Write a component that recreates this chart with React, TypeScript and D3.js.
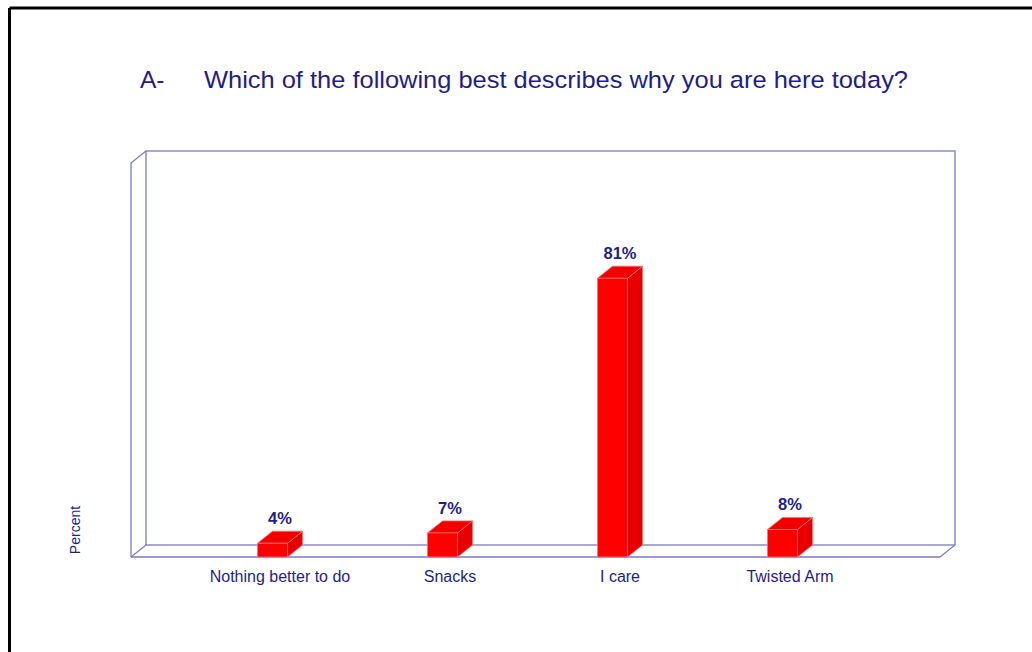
import React from "react";
import * as d3 from "d3";

const categories = ["Nothing better to do", "Snacks", "I care", "Twisted Arm"];
const values = [4, 7, 81, 8];
const valueLabels = ["4%", "7%", "81%", "8%"];
const titlePrefix = "A-";
const titleText = "Which of the following best describes why you are here today?";
const yAxisLabel = "Percent";

export default function App() {
  const W = 1032, H = 652;
  const DX = 15, DY = 12;
  const floorY = 557;
  const x0 = 131, x1 = 940;
  const topY = 163;
  const navy = "#1e1e8a";
  const lineColor = "#7a7ac4";

  const y = d3.scaleLinear().domain([0, 114.5]).range([floorY, topY]);
  const x = d3.scaleBand<string>().domain(categories).range([195, 875]).paddingInner(0);
  const barW = 30;

  const font = "Liberation Sans, Arial, sans-serif";

  return (
    <svg width={W} height={H} style={{ position: "absolute", left: 0, top: 0, background: "#fff" }}>
      <rect x={0} y={0} width={W} height={H} fill="#fff" />
      {/* frame */}
      <line x1={9.5} y1={8} x2={W} y2={8} stroke="#000" strokeWidth={3} />
      <line x1={9.5} y1={8} x2={9.5} y2={H} stroke="#000" strokeWidth={3} />

      {/* title */}
      <text x={140} y={88} fontFamily={font} fontSize={24.5} fill={navy}>{titlePrefix}</text>
      <text x={204} y={88} fontFamily={font} fontSize={24.5} fill={navy} textLength={704} lengthAdjust="spacingAndGlyphs">{titleText}</text>

      {/* 3D frame */}
      <g stroke={lineColor} strokeWidth={1.3} fill="none">
        <rect x={x0 + DX} y={topY - DY} width={x1 - x0} height={floorY - topY} />
        <line x1={x0} y1={topY} x2={x0} y2={floorY} />
        <line x1={x0} y1={topY} x2={x0 + DX} y2={topY - DY} />
        <line x1={x0} y1={floorY} x2={x1} y2={floorY} />
        <line x1={x0} y1={floorY} x2={x0 + DX} y2={floorY - DY} />
        <line x1={x1} y1={floorY} x2={x1 + DX} y2={floorY - DY} />
      </g>

      {/* y axis label */}
      <text
        transform={`translate(80,${530}) rotate(-90)`}
        textAnchor="middle"
        fontFamily={font}
        fontSize={14}
        fill={navy}
      >
        {yAxisLabel}
      </text>

      {/* bars */}
      {categories.map((c, i) => {
        const cx = (x(c) as number) + x.bandwidth() / 2;
        const left = cx - (barW + DX) / 2;
        const right = left + barW;
        const top = y(values[i]);
        const front = `M${left},${floorY}L${left},${top}L${right},${top}L${right},${floorY}Z`;
        const topFace = `M${left},${top}L${left + DX},${top - DY}L${right + DX},${top - DY}L${right},${top}Z`;
        const side = `M${right},${top}L${right + DX},${top - DY}L${right + DX},${floorY - DY}L${right},${floorY}Z`;
        return (
          <g key={c}>
            <path d={side} fill="#e60000" stroke="#ff7070" strokeWidth={0.8} />
            <path d={topFace} fill="#f20000" stroke="#ff7070" strokeWidth={0.8} />
            <path d={front} fill="#ff0000" stroke="#ff7070" strokeWidth={0.8} />
            <text
              x={cx}
              y={top - DY - 7}
              textAnchor="middle"
              fontFamily={font}
              fontSize={16.5}
              fontWeight="bold"
              fill={navy}
            >
              {valueLabels[i]}
            </text>
            <text
              x={cx}
              y={582}
              textAnchor="middle"
              fontFamily={font}
              fontSize={16}
              fill={navy}
            >
              {c}
            </text>
          </g>
        );
      })}
    </svg>
  );
}
